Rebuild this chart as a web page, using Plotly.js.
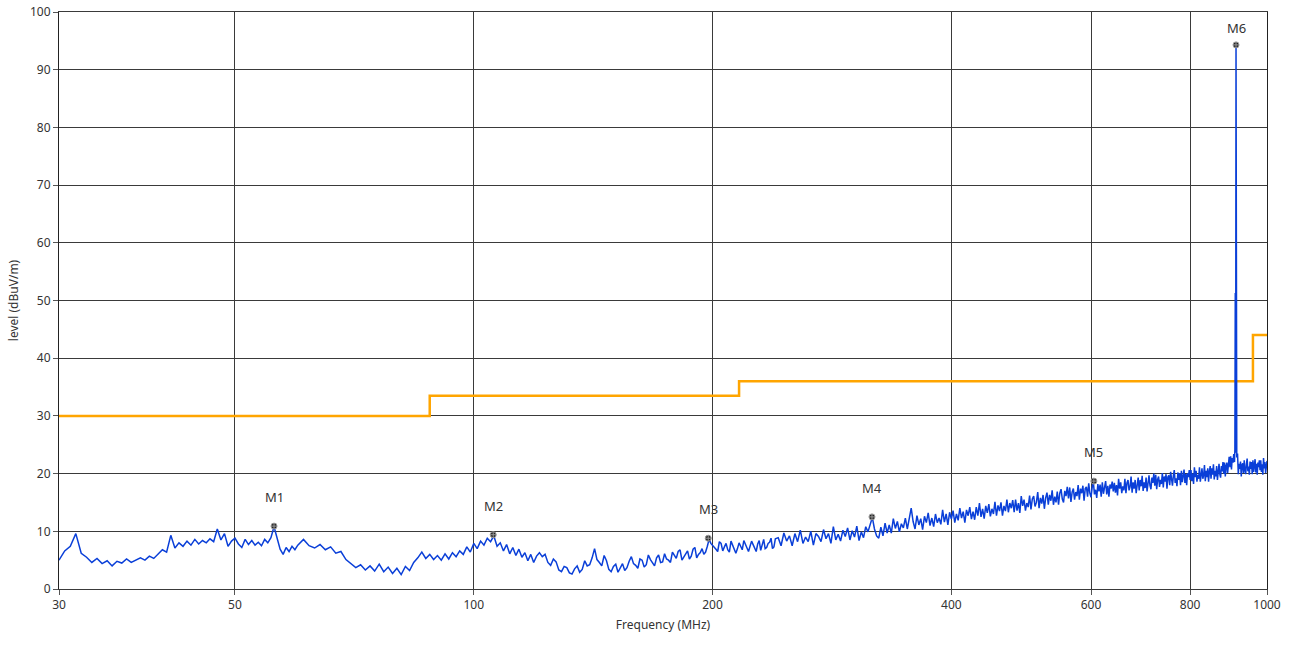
<!DOCTYPE html>
<html>
<head>
<meta charset="utf-8">
<script src="https://cdn.plot.ly/plotly-3.0.1.min.js"></script>
<style>
  html, body { margin: 0; padding: 0; background: #ffffff; }
  #chart { width: 1294px; height: 646px; }
</style>
</head>
<body>
<div id="chart"></div>
<script>
// ---- Data ----
// Scan segment 1: 30 - 60 MHz
const freq1 = [30,30.5,31,31.5,32,32.5,33,33.5,34,34.5,35,35.5,36,36.5,37,37.5,38,38.5,39,39.5,40,40.5,41,41.5,42,42.5,43,43.5,44,44.5,45,45.5,46,46.5,47,47.5,48,48.5,49,49.5,50,50.5,51,51.5,52,52.5,53,53.5,54,54.5,55,55.5,56,56.5,57,57.5,58,58.5,59,59.5,60];
const level1 = [5.0,6.6,7.4,9.6,6.2,5.5,4.6,5.3,4.4,4.9,4.0,4.8,4.5,5.2,4.6,5.0,5.4,5.0,5.7,5.3,6.1,6.8,6.4,9.3,7.1,8.0,7.4,8.3,7.6,8.6,7.8,8.4,8.0,8.7,8.2,10.4,8.5,9.6,7.4,8.3,8.8,7.8,7.2,8.6,7.7,8.4,7.6,8.1,7.5,8.6,8.0,8.9,10.8,8.7,6.9,6.0,7.2,6.5,7.4,6.8,7.6];

// Scan segment 2: 61 - 120 MHz
const freq2 = [61,62,63,64,65,66,67,68,69,70,71,72,73,74,75,76,77,78,79,80,81,82,83,84,85,86,87,88,89,90,91,92,93,94,95,96,97,98,99,100,101,102,103,104,105,106,107,108,109,110,111,112,113,114,115,116,117,118,119,120];
const level2 = [8.6,7.5,7.1,7.7,6.8,7.3,6.2,6.5,5.1,4.4,3.7,4.2,3.3,4.0,3.1,4.3,3.0,3.8,2.7,3.6,2.5,3.9,3.2,4.6,5.4,6.4,5.3,6.0,5.1,5.8,5.0,6.1,5.2,6.3,5.6,6.6,6.0,7.3,6.4,7.9,7.0,8.3,7.6,8.8,8.2,9.2,7.4,8.0,6.6,7.7,6.1,7.2,5.8,6.9,5.5,6.3,4.9,6.0,4.6,5.7];

// Scan segment 3: 121 - 240 MHz
const freq3 = [121,122,123,124,125,126,127,128,129,130,
  131,132,133,134,135,136,137,138,139,140,
  141,142,143,144,145,146,147,148,149,150,
  151,152,153,154,155,156,157,158,159,160,
  161,162,163,164,165,166,167,168,169,170,
  171,172,173,174,175,176,177,178,179,180,
  181,182,183,184,185,186,187,188,189,190,
  191,192,193,194,195,196,197,198,199,200,
  201,202,203,204,205,206,207,208,209,210,
  211,212,213,214,215,216,217,218,219,220,
  221,222,223,224,225,226,227,228,229,230,
  231,232,233,234,235,236,237,238,239,240];
const level3 = [6.3,5.6,6.0,4.6,4.1,5.2,4.7,3.3,3.0,3.9,
  3.7,2.8,2.6,3.5,4.0,2.9,3.4,4.9,4.0,4.2,
  5.4,7.0,5.1,4.6,4.0,5.8,4.9,3.4,3.0,3.9,
  4.3,2.9,3.6,4.4,3.2,3.7,4.8,5.6,4.4,4.1,
  3.6,5.2,5.0,3.8,4.2,5.9,5.1,4.5,4.0,5.4,
  5.9,4.6,4.7,6.1,5.2,5.0,4.6,6.4,5.8,5.3,
  6.5,6.8,5.0,5.5,6.2,6.6,5.2,5.7,6.9,7.2,
  5.4,6.0,6.3,7.0,6.0,6.4,7.4,8.6,7.9,7.6,
  7.2,6.9,6.5,8.2,7.9,6.6,7.3,7.9,6.8,6.4,
  8.3,7.5,6.9,6.2,7.0,8.0,7.4,6.8,8.4,7.7,
  6.9,6.5,7.4,8.3,7.7,6.9,6.5,7.8,8.4,6.7,
  7.6,8.6,7.0,7.2,7.9,8.1,8.8,7.0,7.3,8.7];

// Scan segment 4: 242 - 480 MHz
const freq4 = [242,244,246,248,250,252,254,256,258,260,
  262,264,266,268,270,272,274,276,278,280,
  282,284,286,288,290,292,294,296,298,300,
  302,304,306,308,310,312,314,316,318,320,
  322,324,326,328,330,332,334,336,338,340,
  342,344,346,348,350,352,354,356,358,360,
  362,364,366,368,370,372,374,376,378,380,
  382,384,386,388,390,392,394,396,398,400,
  402,404,406,408,410,412,414,416,418,420,
  422,424,426,428,430,432,434,436,438,440,
  442,444,446,448,450,452,454,456,458,460,
  462,464,466,468,470,472,474,476,478,480];
const level4 = [8.9,7.5,9.7,8.3,9.2,7.5,9.6,8.2,10.2,7.9,
  9.0,8.2,10.0,7.6,9.6,9.1,8.2,10.3,8.7,9.6,
  7.9,10.8,8.5,9.5,8.3,10.2,9.1,10.6,8.5,10.1,
  9.0,10.9,8.4,9.9,8.9,10.8,9.9,11.4,12.4,10.4,
  9.2,8.8,10.7,9.2,11.4,9.7,11.1,9.7,12.2,10.5,
  11.7,9.9,11.3,10.6,12.3,10.4,12.1,14.0,11.7,10.4,
  12.7,11.1,12.2,10.3,12.6,11.5,13.2,11.0,12.3,10.8,
  13.0,11.5,12.3,11.2,13.7,11.6,13.0,11.1,13.3,12.1,
  13.6,11.5,13.0,11.9,14.0,12.3,13.4,11.5,13.7,12.7,
  14.2,12.1,13.4,12.0,14.2,12.7,14.9,12.5,13.9,12.2,
  14.4,13.2,14.7,12.6,13.9,13.0,15.1,12.7,14.5,13.5,
  15.0,12.7,14.4,13.5,15.5,13.3,14.9,14.0,15.4,13.3];

// Scan segment 5: 482 - 1000 MHz
const freq5 = [482,484,486,488,490,492,494,496,498,500,
  502,504,506,508,510,512,514,516,518,520,
  522,524,526,528,530,532,534,536,538,540,
  542,544,546,548,550,552,554,556,558,560,
  562,564,566,568,570,572,574,576,578,580,
  582,584,586,588,590,592,594,596,598,600,
  602,604,606,608,610,612,614,616,618,620,
  622,624,626,628,630,632,634,636,638,640,
  642,644,646,648,650,652,654,656,658,660,
  662,664,666,668,670,672,674,676,678,680,
  682,684,686,688,690,692,694,696,698,700,
  702,704,706,708,710,712,714,716,718,720,
  722,724,726,728,730,732,734,736,738,740,
  742,744,746,748,750,752,754,756,758,760,
  762,764,766,768,770,772,774,776,778,780,
  782,784,786,788,790,792,794,796,798,800,
  802,804,806,808,810,812,814,816,818,820,
  822,824,826,828,830,832,834,836,838,840,
  842,844,846,848,850,852,854,856,858,860,
  862,864,866,868,870,872,874,876,878,880,
  882,884,886,888,890,892,894,896,898,900,
  902,904,906,908,910,
  911,912,913,914,915,916,918,
  920,922,924,926,928,930,932,934,936,938,
  940,942,944,946,948,950,952,954,956,958,
  960,962,964,966,968,970,972,974,976,978,
  980,982,984,986,988,990,992,994,996,998,
  1000];
const level5 = [15.5,13.6,14.9,13.2,16.1,14.4,15.5,13.6,14.9,14.2,
  16.2,13.8,15.6,16.1,14.3,15.0,16.8,14.0,15.8,14.8,
  16.3,13.9,15.8,16.7,14.6,16.3,15.3,17.1,14.6,16.0,
  15.0,16.9,14.6,16.6,17.3,15.6,15.0,17.0,16.1,17.7,
  15.7,17.6,15.1,16.8,17.4,15.5,16.8,16.1,18.0,15.5,
  17.4,16.6,17.9,15.3,17.4,17.7,16.0,18.3,16.6,15.9,
  17.6,18.6,16.4,17.2,15.8,18.2,16.9,18.1,16.0,18.5,
  16.5,17.6,18.7,16.4,17.9,16.0,18.1,17.4,18.6,16.9,
  18.4,16.7,18.0,16.2,19.1,17.4,18.5,16.6,17.8,17.1,
  19.1,16.6,18.4,18.9,17.1,17.7,19.5,16.7,18.5,17.4,
  18.9,16.6,18.4,19.3,17.1,18.9,17.8,19.6,17.0,18.5,
  17.5,19.3,16.9,19.0,19.7,17.9,17.3,19.3,18.4,20.0,
  17.9,19.8,17.3,19.0,19.5,17.7,18.9,18.2,20.1,17.6,
  19.5,18.6,19.9,17.4,19.4,19.7,18.0,20.3,18.6,17.9,
  19.6,20.6,18.4,19.2,17.8,20.2,18.9,20.1,18.0,20.5,
  18.5,19.6,20.7,18.4,19.9,18.0,20.1,19.4,20.6,18.9,
  20.6,18.7,20.0,18.2,21.1,19.4,20.5,18.6,19.8,19.1,
  21.1,18.6,20.4,20.9,19.1,19.7,21.5,18.7,20.5,19.4,
  20.9,18.6,20.4,21.3,19.1,20.9,19.8,21.6,19.0,20.5,
  19.5,21.3,18.9,21.0,21.7,19.9,19.3,21.3,20.4,22.0,
  20.0,21.9,19.5,21.3,21.9,20.1,21.5,22.9,21.1,23.0,
  20.7,22.7,21.9,23.4,22.0,
  24.2,51.3,23.6,94.3,24.4,22.8,23.5,
  19.9,21.7,20.8,22.1,19.5,21.5,21.8,20.1,22.3,20.6,
  19.9,21.6,22.6,20.4,21.2,19.8,22.1,20.8,22.0,19.9,
  22.3,20.3,21.4,22.5,20.2,21.7,19.8,21.9,21.1,22.3,
  20.6,22.3,20.3,21.6,19.8,22.7,20.9,22.0,20.1,21.3,
  22.2];

// Limit line (step function)
const limitFreq = [30, 88, 216, 960, 1000];
const limitLevel = [30, 33.5, 36, 44, 44];

// Markers
const markerNames = ['M1','M2','M3','M4','M5','M6'];
const markerFreq  = [56.0, 105.8, 197.5, 317.7, 605, 914];
const markerLevel = [10.9, 9.4, 8.8, 12.5, 18.7, 94.3];

// Axis ticks
const xTickVals = [30, 50, 100, 200, 400, 600, 800, 1000];
const xTickText = ['30','50','100','200','400','600','800','1000'];
const yTickVals = [0,10,20,30,40,50,60,70,80,90,100];

// ---- Build ----
const freqAll = [].concat(freq1, freq2, freq3, freq4, freq5);
const levelAll = [].concat(level1, level2, level3, level4, level5);

const FONT = '"Noto Sans", "Open Sans", sans-serif';
const TXT = '#333333';

const traces = [
  {
    x: limitFreq, y: limitLevel, type: 'scatter', mode: 'lines',
    line: {color: '#FFA500', width: 2.5, shape: 'hv'},
    hoverinfo: 'skip'
  },
  {
    x: freqAll, y: levelAll, type: 'scatter', mode: 'lines',
    line: {color: '#0a3fd8', width: 1.5},
    hoverinfo: 'skip'
  },
  {
    x: markerFreq, y: markerLevel, type: 'scatter', mode: 'markers',
    marker: {symbol: 'circle-cross', size: 6, color: '#222222', line: {color: '#999999', width: 1}},
    hoverinfo: 'skip'
  }
];

const annotations = markerNames.map((n, i) => ({
  x: Math.log10(markerFreq[i]), y: markerLevel[i], xref: 'x', yref: 'y',
  text: n, showarrow: false, yshift: (markerLevel[i] > 90 ? 17 : 29),
  font: {family: FONT, size: 13, color: TXT}
}));

const layout = {
  width: 1294, height: 646,
  margin: {l: 59, r: 27, t: 12, b: 57, pad: 0},
  paper_bgcolor: '#ffffff', plot_bgcolor: '#ffffff',
  showlegend: false,
  font: {family: FONT, size: 12, color: TXT},
  xaxis: {
    type: 'log',
    range: [Math.log10(30), Math.log10(1000)],
    tickvals: xTickVals, ticktext: xTickText,
    showgrid: true, gridcolor: '#3a3a3a', gridwidth: 1,
    showline: true, linecolor: '#3a3a3a', linewidth: 1, mirror: true,
    ticks: 'outside', ticklen: 5, tickcolor: '#555555',
    tickfont: {family: FONT, size: 12, color: TXT},
    zeroline: false,
    title: {text: 'Frequency (MHz)', font: {family: FONT, size: 12, color: TXT}, standoff: 8}
  },
  yaxis: {
    range: [0, 100],
    tickvals: yTickVals,
    showgrid: true, gridcolor: '#3a3a3a', gridwidth: 1,
    showline: true, linecolor: '#222222', linewidth: 1, mirror: true,
    ticks: 'outside', ticklen: 5, tickcolor: '#555555',
    tickfont: {family: FONT, size: 12, color: TXT},
    zeroline: false,
    title: {text: 'level (dBuV/m)', font: {family: FONT, size: 12, color: TXT}, standoff: 8}
  },
  annotations: annotations
};

Plotly.newPlot('chart', traces, layout, {displayModeBar: false, staticPlot: true});
</script>
</body>
</html>
